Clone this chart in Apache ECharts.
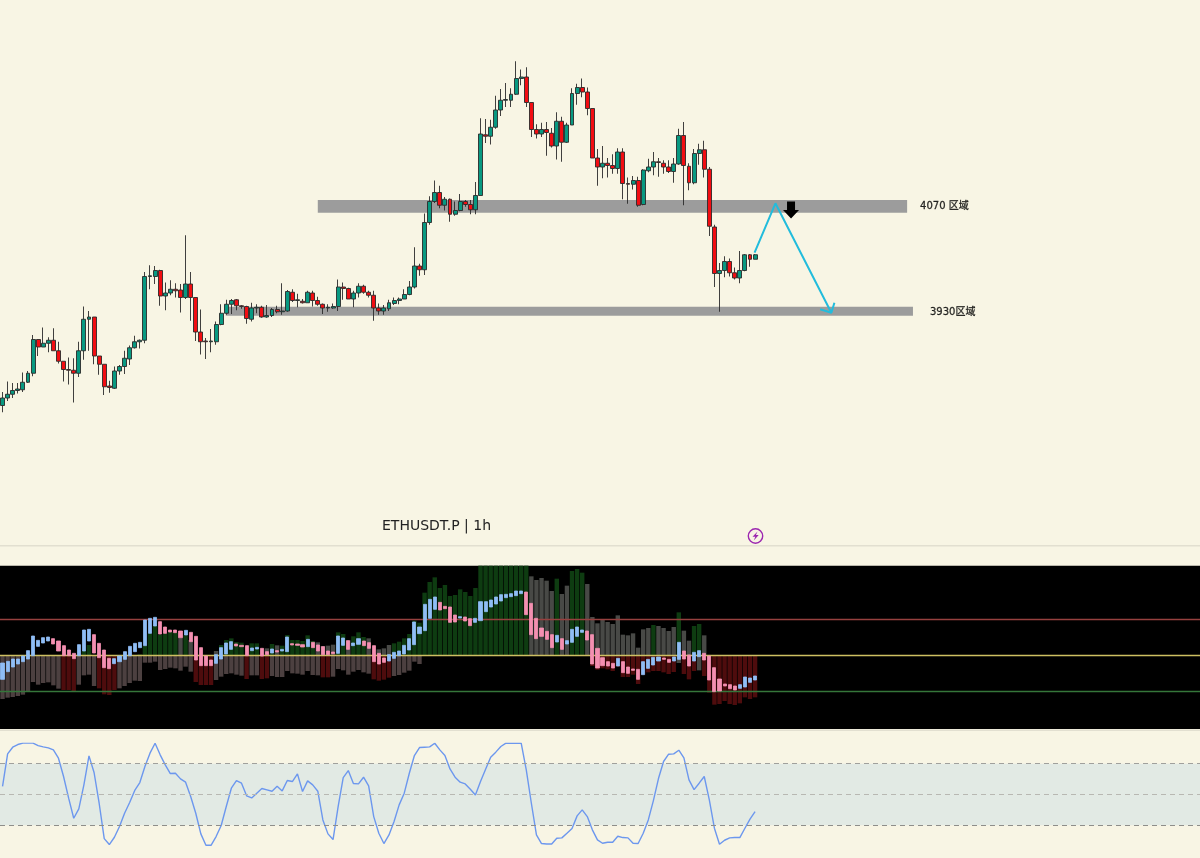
<!DOCTYPE html>
<html>
<head>
<meta charset="utf-8">
<style>html,body{margin:0;padding:0;background:#f8f5e4}#c{width:1200px;height:858px}</style>
<script src="https://cdn.jsdelivr.net/npm/echarts@6/dist/echarts.min.js"></script>
</head>
<body>
<div id="c"></div>
<script>
const symbolTitle = 'ETHUSDT.P | 1h';
const opens = [3804,3814,3819,3824,3825,3835,3847,3892,3882,3887,3891,3877,3863,3852,3851,3847,3877,3919,3922,3870,3859,3830,3827,3850,3856,3866,3881,3889,3891,3976,3976,3984,3950,3954,3959,3958,3948,3966,3948,3902,3890,3889,3889,3912,3927,3939,3945,3937,3936,3919,3934,3935,3922,3924,3932,3929,3930,3955,3944,3943,3941,3954,3944,3939,3934,3934,3936,3962,3960,3946,3954,3963,3955,3951,3934,3930,3933,3940,3944,3946,3952,3962,3990,3985,4048,4076,4088,4071,4079,4059,4064,4076,4072,4065,4084,4165,4163,4175,4198,4211,4211,4219,4240,4242,4208,4172,4166,4172,4167,4150,4183,4155,4178,4220,4228,4222,4200,4134,4122,4127,4124,4120,4142,4100,4099,4104,4072,4117,4122,4129,4127,4122,4116,4126,4164,4123,4101,4140,4145,4119,4042,3980,3984,3996,3981,3974,3984,4005,3999];
const closes = [3814,3819,3824,3826,3835,3847,3892,3882,3887,3891,3877,3863,3852,3851,3847,3877,3919,3922,3870,3859,3829,3828,3850,3856,3867,3881,3889,3891,3976,3977,3984,3950,3954,3959,3957,3948,3966,3948,3902,3889,3889,3890,3912,3927,3939,3944,3937,3936,3920,3934,3935,3922,3924,3932,3929,3930,3956,3944,3945,3941,3955,3944,3939,3934,3935,3936,3962,3960,3946,3954,3963,3955,3951,3934,3930,3934,3941,3944,3946,3952,3962,3990,3985,4048,4076,4088,4071,4079,4059,4064,4076,4072,4065,4084,4166,4163,4175,4198,4211,4212,4219,4240,4242,4208,4172,4166,4172,4168,4150,4183,4155,4178,4220,4228,4222,4200,4134,4122,4127,4124,4120,4142,4100,4099,4104,4071,4118,4122,4129,4128,4122,4116,4126,4164,4124,4101,4140,4145,4119,4043,3980,3984,3996,3981,3974,3984,4005,3999,4005];
const lows = [3795,3810,3814,3820,3822,3834,3843,3870,3882,3875,3877,3860,3836,3832,3808,3842,3865,3877,3859,3845,3818,3821,3826,3845,3846,3858,3880,3880,3887,3959,3966,3937,3931,3951,3948,3928,3946,3917,3890,3872,3866,3875,3885,3911,3925,3926,3931,3933,3913,3916,3927,3921,3921,3922,3927,3925,3929,3942,3935,3940,3941,3936,3937,3926,3929,3933,3930,3945,3946,3935,3948,3953,3948,3917,3925,3925,3930,3938,3939,3946,3951,3960,3977,3978,4045,4074,4067,4064,4049,4057,4063,4069,4059,4059,4084,4154,4152,4173,4190,4202,4202,4218,4231,4202,4162,4160,4162,4137,4148,4132,4129,4154,4178,4205,4215,4191,4134,4097,4107,4108,4113,4113,4079,4073,4092,4069,4071,4115,4111,4109,4113,4114,4101,4125,4071,4091,4099,4125,4108,4030,3962,3929,3975,3976,3972,3967,3983,3989,3999];
const highs = [3822,3836,3834,3834,3848,3850,3898,3892,3908,3895,3907,3889,3863,3868,3867,3889,3936,3930,3922,3870,3859,3837,3856,3858,3877,3884,3897,3892,3982,3991,3990,3985,3968,3971,3967,3966,4031,3982,3948,3932,3894,3906,3916,3939,3945,3946,3946,3938,3937,3941,3939,3937,3938,3934,3937,3967,3958,3959,3953,3946,3957,3957,3949,3940,3939,3940,3972,3968,3961,3957,3967,3965,3957,3957,3940,3938,3945,3948,3948,3959,3970,4015,3993,4060,4083,4104,4097,4082,4080,4076,4086,4078,4078,4102,4187,4186,4185,4217,4226,4234,4227,4263,4252,4255,4208,4179,4181,4182,4174,4195,4189,4181,4227,4233,4240,4228,4200,4146,4150,4134,4139,4147,4147,4108,4110,4109,4119,4133,4142,4134,4131,4131,4134,4173,4182,4127,4146,4153,4157,4122,4045,3994,4003,4000,3988,4010,4006,4006,4006];

const flowOpen = [-71,-48,-34,-25,-18,-10,0,28,38,44,51,44,30,17,7,0,14,44,63,37,17,-8,-24,-18,-11,0,12,24,30,67,89,102,86,77,77,74,62,70,58,24,-1,-13,-23,-10,5,19,35,31,30,15,20,22,12,8,15,14,12,36,35,33,27,40,32,27,14,11,7,31,45,30,34,44,39,30,7,-7,-16,-8,0,5,17,33,66,75,112,139,160,148,146,122,113,116,111,100,105,132,146,155,164,174,177,180,186,191,157,112,83,73,63,41,51,35,40,58,70,74,63,22,-6,-18,-23,-31,-18,-34,-40,-41,-57,-38,-28,-16,-7,-11,-16,-11,14,2,-16,-3,7,-1,-36,-70,-85,-87,-91,-98,-94,-80,-73];
const flowClose = [-22,-17,-10,-10,-1,15,59,46,54,56,35,14,0,0,-9,33,77,79,8,-6,-36,-39,-9,-1,12,28,37,40,107,112,115,65,67,71,69,54,76,42,-13,-30,-30,-30,3,24,38,42,29,27,0,23,25,-1,3,20,11,19,56,32,31,26,49,24,14,3,3,6,59,53,19,38,51,30,22,-18,-25,-20,3,10,14,31,51,101,86,154,169,176,137,141,100,101,117,104,90,112,162,162,167,176,183,184,186,194,194,123,63,51,58,49,24,61,19,45,79,86,77,47,-25,-37,-30,-31,-37,-8,-51,-53,-44,-71,-18,-11,-5,-4,-11,-20,-4,40,-10,-31,10,15,-13,-73,-108,-106,-91,-99,-103,-87,-64,-67,-61];

const histUp = [0,0,0,0,0,0,0,0,0,0,0,0,0,0,0,0,14,32,0,0,0,0,0,0,0,0,0,4,29,67,89,63,67,71,69,54,61,47,0,0,0,0,14,32,47,52,41,39,0,37,37,0,22,35,31,30,62,47,47,44,61,44,40,29,30,33,70,65,46,58,70,56,52,0,19,22,32,37,42,52,65,105,99,189,221,235,203,212,179,182,199,191,179,203,270,270,270,270,270,270,270,270,270,270,238,227,233,225,194,231,185,210,254,260,249,215,116,97,107,101,95,121,63,61,67,24,79,83,92,89,83,74,86,130,75,45,89,95,61,0,0,0,0,0,0,0,0,0,0];
const histDown = [-130,-126,-124,-121,-117,-109,-79,-87,-82,-80,-89,-99,-103,-103,-108,-87,-59,-57,-91,-98,-116,-118,-103,-98,-91,-82,-75,-76,-21,-21,-18,-43,-40,-36,-38,-45,-33,-48,-79,-88,-88,-88,-73,-63,-55,-53,-57,-60,-70,-59,-59,-70,-68,-61,-64,-64,-46,-53,-54,-57,-46,-58,-59,-65,-65,-63,-40,-44,-57,-48,-43,-50,-54,-71,-75,-72,-66,-61,-58,-51,-45,-18,-25,0,0,0,0,0,0,0,0,0,0,0,0,0,0,0,0,0,0,0,0,0,0,0,0,0,0,0,0,0,0,0,0,0,-31,-42,-38,-41,-46,-33,-64,-64,-57,-85,-57,-50,-46,-46,-50,-55,-49,-22,-55,-71,-46,-44,-61,-111,-147,-145,-136,-145,-148,-143,-125,-130,-125];
const histDownHot = [13,14,15,20,21,22,23,39,40,41,42,49,52,53,64,65,74,75,76,77,117,118,119,120,121,122,123,124,125,126,127,128,129,130,131,132,133,135,136,137,139,140,141,142,143,144,145,146,147,148,149];
const histUpGray = [36,38,43,53,55,63,64,65,66,69,73,75,76,77,105,106,107,108,109,111,112,116,117,118,119,120,121,122,123,124,125,126,127,128,130,131,132,133,135,136,139];
const histDownGray = [134,138];

const stochRsi = [58,89.5,96,98.6,100,100,100,97.6,96.3,95.4,93.4,85.3,67.5,46.4,26.9,36,59.4,87.6,71.4,41.5,7.1,1.3,8.4,18.8,31.8,42.2,53.9,61.6,77.2,90.2,99.9,88.6,78.8,70.4,70.7,65.2,62,48,31.8,11.7,0.6,0.6,9.1,19.8,38.3,56.1,63.6,61,48.7,46.7,51.3,55.8,54.5,53.2,58.1,53.5,63.6,62.6,70.1,52.9,63.3,59.4,53.2,25.3,11.7,6.2,38.3,66.5,73.3,60.7,60.3,66.8,58.4,28.5,12.3,2.3,10.7,23.7,39.9,51.3,70.7,87.9,95.7,96,96.3,99.9,93.4,87.9,74.9,66.8,62,60.3,55.1,49.6,62.6,74.6,86.3,91.2,96.7,99.9,99.9,99.9,99.9,74,41.5,10.7,2.3,1.9,1.9,7.5,7.8,12.3,16.9,29.2,35,28.5,15.6,5.8,2.6,3.6,3.6,9.4,8.1,7.8,2.6,2.3,12.3,25.3,44.1,65.5,82.1,89.2,89.5,93.1,85.6,64.2,54.8,61,67.5,44.8,17.2,1.6,5.5,7.8,8.1,8.1,17.2,26,33.4];

// zones: [fromBar, toBar, topPrice, bottomPrice]
const zones = [[62,177.9,4078,4061],[43.9,179.05,3935.7,3923.7]];
const zoneLabels = [[180.45,4069,'4070 区域'],[182.4,3927.5,'3930区域']];
const pathMain = [[147.9,4007.7],[152,4073.6],[163,3927.7]];
const pathHead = [[160.8,3932.3],[163,3927.7],[163.6,3941]];
const sellMark = [[155.07,4064.7]];
const slots = 236;
const categories = Array.from({length: slots}, (_, i) => String(i + 1));

const COL = {
  bg:'#f8f5e4', up:'#089981', down:'#f20d12', wick:'#2a2a2a', zone:'#9c9c9c', path:'#22bcdc',
  green:'#0e3c11', gray:'#484946', mauve:'#4c4040', red:'#4e0c0d', blue:'#8fbdf5', pink:'#f48fb1'
};
const candleData = opens.map((o,i)=>[o,closes[i],lows[i],highs[i]]);
const flowData = flowOpen.map((o,i)=>[o,flowClose[i],Math.min(o,flowClose[i]),Math.max(o,flowClose[i])]);
const upData = histUp.map((v,i)=>({value:v,itemStyle:{color:histUpGray.includes(i+1)?COL.gray:COL.green}}));
const downData = histDown.map((v,i)=>({value:v,itemStyle:{color:histDownGray.includes(i+1)?COL.gray:histDownHot.includes(i+1)?COL.red:COL.mauve}}));

const hiddenCat = gi => ({type:'category',gridIndex:gi,data:categories,show:false,boundaryGap:true});
const silentLine = (y,c,w,t) => ({yAxis:y,lineStyle:{color:c,width:w,type:t}});

const chart = echarts.init(document.getElementById('c'),null,{renderer:'canvas'});
chart.setOption({
  animation:false,
  backgroundColor:COL.bg,
  grid:[
    {left:0,width:1200.6,top:3.5,height:540},
    {left:0,width:1200.6,top:565.67,height:163.33,backgroundColor:'#000',show:true,borderWidth:0},
    {left:0,width:1200.6,top:743.1,height:102.8}
  ],
  xAxis:[
    hiddenCat(0),
    {type:'value',gridIndex:0,min:-0.5,max:slots-0.5,show:false},
    hiddenCat(1),
    hiddenCat(2)
  ],
  yAxis:[
    {type:'value',gridIndex:0,min:3620,max:4340,show:false},
    {type:'value',gridIndex:1,min:-220,max:270,show:false},
    {type:'value',gridIndex:2,min:0,max:100,show:false}
  ],
  series:[
    {type:'custom',xAxisIndex:1,yAxisIndex:0,z:1,silent:true,data:zones,
      renderItem:(p,api)=>{
        const a=api.coord([api.value(0),api.value(2)]),b=api.coord([api.value(1),api.value(3)]);
        return {type:'rect',shape:{x:a[0],y:a[1],width:b[0]-a[0],height:b[1]-a[1]},style:{fill:COL.zone}};
      }},
    {type:'candlestick',xAxisIndex:0,yAxisIndex:0,z:3,barWidth:4.4,data:candleData,silent:true,
      itemStyle:{color:COL.up,color0:COL.down,borderColor:COL.wick,borderColor0:COL.wick,borderColorDoji:COL.wick,borderWidth:0.9}},
    {type:'line',xAxisIndex:1,yAxisIndex:0,z:4,data:pathMain,symbol:'none',silent:true,lineStyle:{color:COL.path,width:2}},
    {type:'line',xAxisIndex:1,yAxisIndex:0,z:4,data:pathHead,symbol:'none',silent:true,lineStyle:{color:COL.path,width:2}},
    {type:'scatter',xAxisIndex:1,yAxisIndex:0,z:5,data:sellMark,silent:true,
      symbol:'path://M4 0H12V8H16L8 16L0 8H4Z',symbolSize:[16,17],itemStyle:{color:'#000',opacity:1}},
    {type:'scatter',xAxisIndex:1,yAxisIndex:0,z:5,silent:true,symbolSize:0,
      data:zoneLabels.map(l=>({value:[l[0],l[1]],name:l[2]})),
      label:{show:true,position:'right',distance:0,formatter:'{b}',color:'#000',fontSize:10,textBorderColor:'#000',textBorderWidth:0.3,fontFamily:'"DejaVu Sans","Noto Sans CJK SC",sans-serif'}},

    {type:'bar',xAxisIndex:2,yAxisIndex:1,barWidth:4.4,barGap:'-100%',z:2,silent:true,data:upData},
    {type:'bar',xAxisIndex:2,yAxisIndex:1,barWidth:4.4,barGap:'-100%',z:2,silent:true,data:downData,
      markLine:{silent:true,symbol:'none',label:{show:false},z:4,animation:false,data:[
        silentLine(108,'#96403f',1.4,'solid'),silentLine(0,'#cdbf62',1.4,'solid'),silentLine(-108,'#35763a',1.4,'solid')]}},
    {type:'candlestick',xAxisIndex:2,yAxisIndex:1,z:5,barWidth:3.6,data:flowData,silent:true,
      itemStyle:{color:COL.blue,color0:COL.pink,borderColor:COL.blue,borderColor0:COL.pink,borderWidth:0.8}},

    {type:'line',xAxisIndex:3,yAxisIndex:2,z:4,data:stochRsi,symbol:'none',silent:true,
      lineStyle:{color:'#6c97ee',width:1.4},
      markArea:{silent:true,itemStyle:{color:'#e2eae4'},data:[[{yAxis:80},{yAxis:20}]]},
      markLine:{silent:true,symbol:'none',label:{show:false},animation:false,data:[
        silentLine(80,'#a0a09c',1,[5,4]),silentLine(50,'#b8b8b2',1,[5,4]),silentLine(20,'#8e8e8a',1,[5,4])]}}
  ],
  graphic:[
    {type:'rect',shape:{x:0,y:545,width:1200,height:1.5},style:{fill:'#e2dfd0'},silent:true},
    {type:'rect',shape:{x:0,y:729.5,width:1200,height:1.5},style:{fill:'#e2dfd0'},silent:true},
    {type:'text',x:382,y:519,silent:true,style:{text:symbolTitle,fill:'#222',font:'14px "DejaVu Sans",sans-serif'}},
    {type:'circle',shape:{cx:755.5,cy:536,r:7.2},silent:true,style:{fill:'none',stroke:'#9c27b0',lineWidth:1.4}},
    {type:'polygon',shape:{points:[[757.5,531.5],[752.5,536.8],[755.3,536.8],[753.8,540.5],[758.7,535],[755.9,535]]},silent:true,style:{fill:'#9c27b0'}}
  ]
});
</script>
</body>
</html>
